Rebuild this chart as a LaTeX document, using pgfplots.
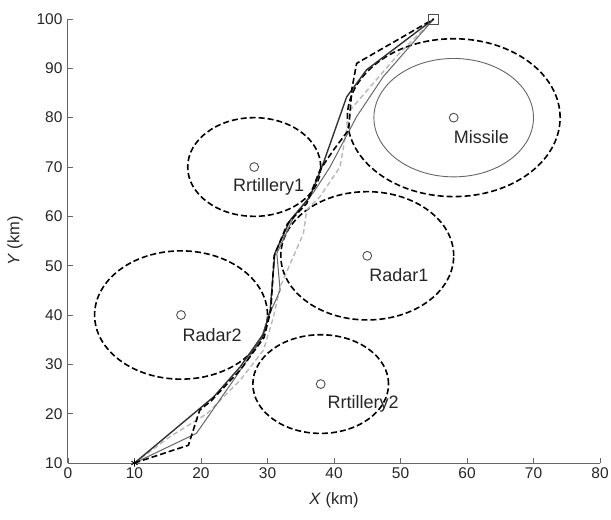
\documentclass[border=0pt]{standalone}
\usepackage{fontspec}
\setmainfont{Liberation Sans}
\usepackage{pgfplots}
\pgfplotsset{compat=1.18}
\pgfplotstableread{
x y
45 52
17 40
28 70
38 26
58 80
}\centers
\begin{document}
\begin{tikzpicture}
\begin{axis}[
  scale only axis, width=532pt, height=444pt,
  xmin=0, xmax=80, ymin=10, ymax=100,
  axis lines=left,
  axis line style={-, draw=black!60, line width=1pt},
  xtick={0,10,...,80}, ytick={10,20,...,100},
  tick align=inside, major tick length=5pt,
  tick style={draw=black!60, line width=0.8pt},
  ticklabel style={font=\fontsize{15.5}{17}\selectfont, text=black!85},
  xticklabel style={yshift=-1pt},
  yticklabel style={xshift=-2pt},
  /pgf/number format/assume math mode=true,
  xlabel={\textit{X} (km)}, ylabel={\textit{Y} (km)},
  label style={font=\fontsize{16.5}{18}\selectfont, text=black!85},
  xlabel style={at={(axis description cs:0.5,-0.0833)}, anchor=center},
  ylabel style={at={(axis description cs:-0.0996,0.5)}, anchor=center},
  clip=false,
]
\coordinate (ll) at (rel axis cs:0,0);
\coordinate (ur) at (rel axis cs:1,1);
% threat zones
\draw[black, line width=1.6pt, dash pattern=on 6pt off 3pt] (axis cs:45,52) ellipse [x radius=13, y radius=13];
\draw[black, line width=1.6pt, dash pattern=on 6pt off 3pt] (axis cs:17,40) ellipse [x radius=13, y radius=13];
\draw[black, line width=1.6pt, dash pattern=on 6pt off 3pt] (axis cs:28,70) ellipse [x radius=10, y radius=10];
\draw[black, line width=1.6pt, dash pattern=on 6pt off 3pt] (axis cs:38,26) ellipse [x radius=10.2, y radius=10];
\draw[black, line width=1.6pt, dash pattern=on 6pt off 3pt] (axis cs:58,80) ellipse [x radius=16, y radius=16];
\draw[black!60, line width=0.9pt] (axis cs:58,80) ellipse [x radius=12, y radius=12];
% paths
\addplot[color=black!28, line width=1.4pt, dash pattern=on 5pt off 3pt] coordinates {
(10,10) (15.3,15.3) (20.9,20) (25.9,26.8) (29.4,32.9) (30.9,39.6) (31.9,45.7) (35.4,56.5) (35.9,61.3) (37.9,64) (40.9,70) (42.4,81.5) (49.4,92.4) (55,100)};
\addplot[color=black!60, line width=1pt] coordinates {
(10,10) (19.3,16) (25,27) (29,35) (30.1,39.6) (31.9,45) (31.4,52.5) (34,60) (37,65) (39.4,70) (43.4,80.2) (47.4,88.3) (55,100)};
\addplot[color=black!80, line width=1.4pt] coordinates {
(10,10) (21.9,23.4) (25.9,29.5) (29.4,36.2) (30.4,41) (31.1,52.5) (33.4,59.2) (36.4,64) (38.4,70.8) (41.9,84.2) (44.9,89.7) (55,100)};
\addplot[color=black, line width=1.6pt, dash pattern=on 6pt off 3pt] coordinates {
(10,10) (18.1,13.6) (19.8,20.7) (21.6,22.7) (26,29) (29.5,35.5) (30.5,41) (31,52) (33,58.5) (35.9,62.6) (37.9,69.4) (39.9,73.4) (42.2,77.5) (42.7,85.9) (43.4,91) (55,100)};
% markers
\addplot[only marks, mark=o, mark size=4.4pt, color=black!70, mark options={line width=0.9pt}] table {\centers};
\addplot[only marks, mark=asterisk, mark size=3.5pt, color=black, mark options={line width=0.9pt}] coordinates {(10,10)};
\addplot[only marks, mark=square, mark size=5pt, color=black!70, mark options={line width=0.9pt}] coordinates {(55,100)};
% labels
\begin{scope}[every node/.style={font=\fontsize{18}{20}\selectfont, inner sep=0pt, anchor=west, text=black!85}]
\node at (axis cs:58,76) {Missile};
\node at (axis cs:45.3,48) {Radar1};
\node at (axis cs:17.2,36) {Radar2};
\node at (axis cs:39,22) {Rrtillery2};
\node at (axis cs:24.8,66) {Rrtillery1};
\end{scope}
\end{axis}
\pgfresetboundingbox
\path ([shift={(-68pt,-56pt)}]ll) rectangle ([shift={(11pt,19pt)}]ur);
\end{tikzpicture}
\end{document}
